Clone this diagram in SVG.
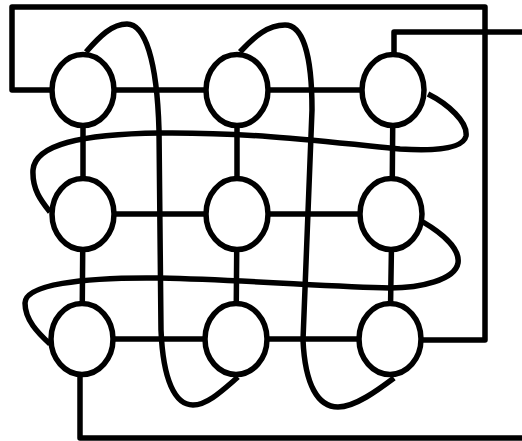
<svg xmlns="http://www.w3.org/2000/svg" width="522" height="441" viewBox="0 0 522 441">
<style>
.c{fill:none;stroke:#000;stroke-width:5.5;stroke-linejoin:round;stroke-linecap:butt}
.n{fill:#fff;stroke:#000;stroke-width:5.5}
</style>
<rect width="522" height="441" fill="#fff"/>
<g id="connectors" class="c">
<path d="M83 90 H393 M83 214 H392 M82 339 H390"/>
<path d="M83 90 V214 L82 339 M237 90 V214 L236 339 M393 90 L392 214 L390 339"/>
<path d="M52 90 H12 V7 H485 V340 H422"/>
<path d="M394 53 V32 H522"/>
<path d="M80 376 V438 H522"/>
<path d="M86 52 C100 36 112 24 127 24 C145 24 157 60 159 130 L161 330 C163 380 175 405 193 405 C208 405 225 388 238 377"/>
<path d="M240 52 C255 36 268 25 285 25 C303 25 312 55 312 110 L303 340 C305 385 318 407 338 407 C355 407 378 390 394 378"/>
<path d="M428 94 C448 104 468 122 466 136 C463 150 430 151 400 149 C330 142 250 132 160 133 C80 134 35 145 33 170 C32 190 42 202 50 212"/>
<path d="M423 222 C445 235 460 250 458 263 C455 280 420 288 390 288 C330 287 250 280 160 278 C80 277 25 285 25 303 C25 320 38 333 50 344"/>
</g>
<g id="n11"><ellipse class="n" cx="83" cy="90" rx="31" ry="35.5"/></g>
<g id="n12"><ellipse class="n" cx="237" cy="90" rx="31" ry="35.5"/></g>
<g id="n13"><ellipse class="n" cx="393" cy="90" rx="31" ry="35.5"/></g>
<g id="n21"><ellipse class="n" cx="83" cy="214" rx="31" ry="35.5"/></g>
<g id="n22"><ellipse class="n" cx="237" cy="214" rx="31" ry="35.5"/></g>
<g id="n23"><ellipse class="n" cx="391" cy="214" rx="31" ry="35.5"/></g>
<g id="n31"><ellipse class="n" cx="82" cy="339" rx="31" ry="35.5"/></g>
<g id="n32"><ellipse class="n" cx="236" cy="339" rx="31" ry="35.5"/></g>
<g id="n33"><ellipse class="n" cx="390" cy="339" rx="31" ry="35.5"/></g>
</svg>
